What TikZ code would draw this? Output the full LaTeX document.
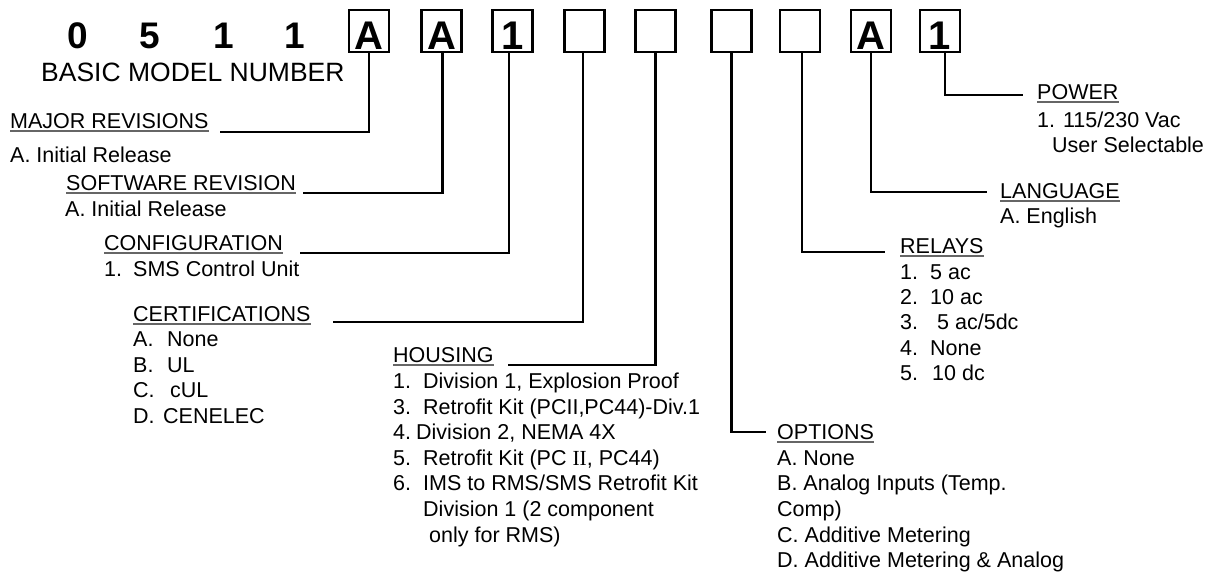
\documentclass[tikz,border=0pt]{standalone}
\usepackage{fontspec}
\setmainfont{Liberation Sans}
\newfontfamily\serifII{Liberation Serif}
\begin{document}
\begin{tikzpicture}[x=1pt,y=-1pt,
  txt/.style={anchor=base west, inner sep=0pt, font=\fontsize{21.5}{25}\selectfont},
  bigtxt/.style={anchor=base west, inner sep=0pt, font=\fontsize{26.5}{30}\selectfont},
  digit/.style={anchor=base, inner sep=0pt, font=\fontsize{37}{40}\selectfont\bfseries},
  cell/.style={draw, line width=2.3pt, minimum width=40pt, minimum height=42pt, inner sep=0pt,
    text height=36pt, text depth=0pt, font=\fontsize{40}{42}\selectfont\bfseries},
  conn/.style={line width=2.3pt},
  ul/.style={line width=1.2pt, black!60}]
\useasboundingbox (0,0) rectangle (1222,573);

% basic model number
\node[digit] (d1) at (77.5,48) {0};
\node[digit] (d2) at (150,48) {5};
\node[digit] (d3) at (224,48) {1};
\node[digit] (d4) at (295,48) {1};
\node[bigtxt] (bmn) at (41,81) {BASIC MODEL NUMBER};

% boxes
\node[cell] (b1) at (369,31) {A};
\node[cell] (b2) at (441.5,31) {A};
\node[cell] (b3) at (512.5,31) {1};
\node[cell] (b4) at (584.5,31) {};
\node[cell] (b5) at (655.5,31) {};
\node[cell] (b6) at (731.5,31) {};
\node[cell] (b7) at (800,31) {};
\node[cell] (b8) at (871,31) {A};
\node[cell] (b9) at (940,31) {1};

% headings and items
\node[txt] (hmr) at (10,128) {MAJOR REVISIONS};
\node[txt] (mr1) at (10,162) {A. Initial Release};
\node[txt] (hsr) at (66,190) {SOFTWARE REVISION};
\node[txt] (sr1) at (65,216) {A. Initial Release};
\node[txt] (hcf) at (104,250) {CONFIGURATION};
\node[txt] (cf1) at (104,276) {\makebox[29pt][l]{1.}SMS Control Unit};
\node[txt] (hce) at (133,321) {CERTIFICATIONS};
\node[txt] (ce1) at (133,346) {\makebox[34pt][l]{A.}None};
\node[txt] (ce2) at (133,372) {\makebox[34pt][l]{B.}UL};
\node[txt] (ce3) at (133,397) {\makebox[37pt][l]{C.}cUL};
\node[txt] (ce4) at (133,423) {\makebox[30pt][l]{D.}CENELEC};

\node[txt] (hho) at (393,362) {HOUSING};
\node[txt] (ho1) at (393,388) {\makebox[30pt][l]{1.}Division 1, Explosion Proof};
\node[txt] (ho3) at (393,414) {\makebox[30pt][l]{3.}Retrofit Kit (PCII,PC44)-Div.1};
\node[txt] (ho4) at (393,439) {\makebox[23pt][l]{4.}Division 2, NEMA 4X};
\node[txt] (ho5) at (393,465) {\makebox[30pt][l]{5.}Retrofit Kit (PC {\serifII II}, PC44)};
\node[txt] (ho6) at (393,490) {\makebox[30pt][l]{6.}IMS to RMS/SMS Retrofit Kit};
\node[txt] (ho6b) at (423,516) {Division 1 (2 component};
\node[txt] (ho6c) at (429,542) {only for RMS)};

\node[txt] (hop) at (777,439) {OPTIONS};
\node[txt] (op1) at (777,465) {A. None};
\node[txt] (op2) at (777,490) {B. Analog Inputs (Temp.};
\node[txt] (op2b) at (777,516) {Comp)};
\node[txt] (op3) at (777,542) {C. Additive Metering};
\node[txt] (op4) at (777,567) {D. Additive Metering \& Analog};

\node[txt] (hre) at (900,253) {RELAYS};
\node[txt] (re1) at (900,279) {\makebox[30pt][l]{1.}5 ac};
\node[txt] (re2) at (900,304) {\makebox[30pt][l]{2.}10 ac};
\node[txt] (re3) at (900,329) {\makebox[37pt][l]{3.}5 ac/5dc};
\node[txt] (re4) at (900,355) {\makebox[30pt][l]{4.}None};
\node[txt] (re5) at (900,380) {\makebox[32pt][l]{5.}10 dc};

\node[txt] (hla) at (1000,198) {LANGUAGE};
\node[txt] (la1) at (1000,223) {A. English};

\node[txt] (hpo) at (1037,99) {POWER};
\node[txt] (po1) at (1037,127) {1. 115/230 Vac};
\node[txt] (po2) at (1052,152) {User Selectable};

% underlines
\foreach \h in {hmr,hsr,hcf,hce,hho,hop,hre,hla,hpo}
  \draw[ul] ([yshift=-3pt]\h.base west) -- ([yshift=-3pt]\h.base east);

% connectors
\coordinate (cm) at (220,132);
\coordinate (cs) at (303,193);
\coordinate (cg) at (300,253);
\coordinate (cc) at (333,322);
\coordinate (ch) at (508,365);
\coordinate (co) at (766,432);
\coordinate (cr) at (885,252);
\coordinate (cl) at (987,192);
\coordinate (cp) at (1023,95);
\draw[conn] (b1.south) |- (cm);
\draw[conn] ([xshift=1pt]b2.south) |- (cs);
\draw[conn] ([xshift=-3.5pt]b3.south) |- (cg);
\draw[conn] ([xshift=-1.5pt]b4.south) |- (cc);
\draw[conn] (b5.south) |- (ch);
\draw[conn] (b6.south) |- (co);
\draw[conn] ([xshift=2pt]b7.south) |- (cr);
\draw[conn] (b8.south) |- (cl);
\draw[conn] ([xshift=5pt]b9.south) |- (cp);
\end{tikzpicture}
\end{document}
